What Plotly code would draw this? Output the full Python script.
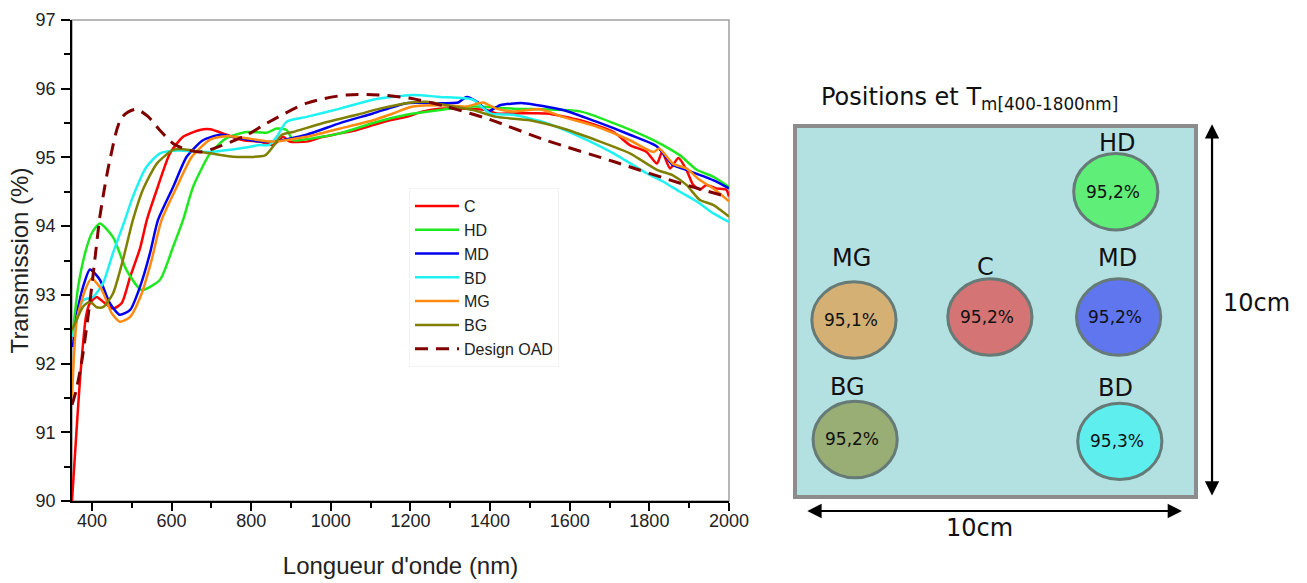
import plotly.graph_objects as go

# ---------------- data ----------------
c_x = [350, 360, 370, 385, 395, 412, 428, 453, 475, 496, 521, 538, 563, 596, 629, 671, 697, 738, 780, 822, 855, 880, 897, 939, 981, 1023, 1065, 1106, 1148, 1190, 1232, 1274, 1341, 1391, 1416, 1458, 1542, 1626, 1710, 1751, 1793, 1819, 1832, 1852, 1873, 1893, 1910, 1927, 1943, 1968, 1993, 2000]
c_y = [90.0, 90.9, 91.76, 92.68, 92.88, 92.97, 92.90, 92.80, 92.88, 93.26, 93.68, 94.09, 94.53, 95.06, 95.30, 95.40, 95.41, 95.33, 95.25, 95.23, 95.18, 95.30, 95.23, 95.23, 95.30, 95.35, 95.40, 95.47, 95.54, 95.59, 95.67, 95.71, 95.71, 95.69, 95.64, 95.64, 95.64, 95.54, 95.37, 95.18, 95.08, 94.91, 95.08, 94.84, 94.99, 94.82, 94.60, 94.53, 94.60, 94.55, 94.53, 94.43]

hd_x = [352, 365, 383, 400, 420, 453, 487, 525, 571, 604, 629, 654, 697, 738, 789, 839, 864, 889, 905, 922, 1023, 1106, 1190, 1274, 1357, 1458, 1626, 1710, 1793, 1834, 1877, 1919, 1960, 2000]
hd_y = [92.44, 93.1, 93.61, 93.9, 94.04, 93.84, 93.36, 93.07, 93.22, 93.70, 94.09, 94.57, 95.06, 95.28, 95.37, 95.36, 95.42, 95.40, 95.25, 95.25, 95.35, 95.50, 95.62, 95.69, 95.74, 95.71, 95.67, 95.50, 95.30, 95.18, 95.03, 94.82, 94.72, 94.57]

md_x = [352, 365, 378, 395, 420, 445, 470, 496, 521, 546, 566, 604, 638, 679, 722, 772, 822, 855, 939, 1023, 1106, 1190, 1274, 1320, 1341, 1370, 1395, 1425, 1483, 1583, 1667, 1751, 1819, 1859, 1893, 1960, 2000]
md_y = [92.24, 92.8, 93.12, 93.37, 93.22, 92.88, 92.71, 92.78, 93.12, 93.61, 94.09, 94.57, 95.01, 95.25, 95.33, 95.28, 95.23, 95.23, 95.33, 95.50, 95.64, 95.79, 95.79, 95.80, 95.88, 95.80, 95.67, 95.76, 95.79, 95.69, 95.52, 95.33, 95.16, 94.89, 94.82, 94.67, 94.55]

bd_x = [352, 378, 403, 428, 453, 483, 503, 537, 571, 613, 697, 780, 822, 845, 864, 889, 939, 1023, 1106, 1206, 1274, 1357, 1400, 1458, 1542, 1626, 1710, 1793, 1834, 1877, 1919, 1960, 2000]
bd_y = [92.39, 92.92, 92.97, 93.17, 93.61, 94.09, 94.43, 94.86, 95.06, 95.10, 95.08, 95.14, 95.18, 95.18, 95.30, 95.52, 95.59, 95.71, 95.84, 95.91, 95.88, 95.84, 95.64, 95.62, 95.50, 95.30, 95.06, 94.77, 94.65, 94.50, 94.36, 94.19, 94.06]

mg_x = [350, 362, 383, 399, 425, 450, 470, 496, 525, 550, 575, 613, 651, 697, 738, 822, 855, 939, 1023, 1106, 1156, 1206, 1274, 1341, 1382, 1416, 1458, 1525, 1583, 1667, 1751, 1810, 1825, 1859, 1893, 1927, 1960, 2000]
mg_y = [91.52, 92.63, 93.07, 93.24, 93.07, 92.73, 92.61, 92.68, 93.02, 93.51, 94.09, 94.57, 95.01, 95.26, 95.31, 95.25, 95.23, 95.30, 95.42, 95.54, 95.64, 95.74, 95.76, 95.74, 95.80, 95.71, 95.67, 95.70, 95.59, 95.45, 95.25, 95.08, 95.13, 94.91, 94.84, 94.67, 94.55, 94.36]

bg_x = [350, 358, 378, 395, 412, 428, 453, 478, 503, 528, 563, 604, 629, 697, 755, 835, 855, 877, 905, 981, 1065, 1123, 1190, 1240, 1291, 1357, 1416, 1500, 1583, 1667, 1751, 1819, 1859, 1893, 1927, 1960, 2000]
bg_y = [92.49, 92.59, 92.83, 92.90, 92.82, 92.82, 93.02, 93.51, 94.09, 94.53, 94.91, 95.11, 95.12, 95.06, 95.01, 95.03, 95.16, 95.33, 95.37, 95.50, 95.62, 95.71, 95.79, 95.81, 95.76, 95.69, 95.59, 95.54, 95.42, 95.25, 95.06, 94.82, 94.74, 94.60, 94.38, 94.31, 94.14]

oad_x = [350, 360, 375, 395, 415, 420, 445, 475, 510, 540, 570, 610, 670, 720, 790, 840, 940, 1040, 1120, 1200, 1290, 1400, 1540, 1710, 1880, 2000]
oad_y = [91.4, 91.6, 92.05, 92.9, 93.9, 94.14, 94.96, 95.58, 95.7, 95.6, 95.4, 95.18, 95.08, 95.16, 95.33, 95.5, 95.79, 95.91, 95.91, 95.86, 95.74, 95.55, 95.25, 94.94, 94.62, 94.42]

x_ticks = [400, 600, 800, 1000, 1200, 1400, 1600, 1800, 2000]
y_ticks = [90, 91, 92, 93, 94, 95, 96, 97]

# diagram data (positions in cm on the 10 cm x 10 cm sample)
spot_names = ["HD", "MG", "C", "MD", "BG", "BD"]
spot_tm = ["95,2%", "95,1%", "95,2%", "95,2%", "95,2%", "95,3%"]
spot_x_cm = [8.00, 1.47, 4.86, 8.07, 1.50, 8.10]
spot_y_cm = [8.23, 4.77, 4.85, 4.85, 1.55, 1.50]
label_x_cm = [8.03, 1.40, 4.74, 8.05, 1.32, 7.98]
label_y_cm = [9.54, 6.44, 6.20, 6.44, 2.96, 2.94]
spot_colors = ["#5fee78", "#d4b074", "#d47474", "#5f76ee", "#98ae74", "#5eeeee"]
sample_size_cm = 10

# ---------------- figure ----------------
fig = go.Figure()
series = [
    ("C", c_x, c_y, "#ff0000"),
    ("HD", hd_x, hd_y, "#1ee81e"),
    ("MD", md_x, md_y, "#0000f0"),
    ("BD", bd_x, bd_y, "#1ff2f2"),
    ("MG", mg_x, mg_y, "#ff8a10"),
    ("BG", bg_x, bg_y, "#808000"),
]
for name, xs, ys, col in series:
    fig.add_trace(go.Scatter(x=xs, y=ys, name=name, mode="lines",
                             line=dict(color=col, width=2.5, shape="spline", smoothing=0.6)))
fig.add_trace(go.Scatter(x=oad_x, y=oad_y, name="Design OAD", mode="lines",
                         line=dict(color="#800000", width=3, dash="13px,8px", shape="spline", smoothing=0.8)))

W, H = 1307, 583
sans = "Liberation Sans, Arial, sans-serif"
axis_font = dict(family=sans, size=18, color="#222")
fig.update_layout(
    width=W, height=H,
    margin=dict(l=0, r=0, t=0, b=0),
    paper_bgcolor="white", plot_bgcolor="white",
    showlegend=True,
    legend=dict(x=409 / W, y=1 - 188 / H, xanchor="left", yanchor="top",
                bgcolor="rgba(255,255,255,0)", bordercolor="#f3f3f3", borderwidth=1,
                font=dict(family=sans, size=16, color="#222"),
                itemwidth=44, entrywidth=150, tracegroupgap=0),
    xaxis=dict(domain=[72 / W, 729 / W], range=[350, 2000], tickvals=x_ticks,
               ticks="outside", ticklen=8, tickwidth=1.5, tickcolor="black",
               minor=dict(dtick=100, ticks="outside", ticklen=5, tickwidth=1.5, tickcolor="black"),
               showline=True, linecolor="black", linewidth=1.5, showgrid=False, zeroline=False,
               tickfont=axis_font, ticklabelstandoff=-5,
               title=dict(text="Longueur d'onde (nm)", font=dict(family=sans, size=24, color="#222"), standoff=27),
               automargin=False),
    yaxis=dict(domain=[1 - 501 / H, 1 - 20 / H], range=[90, 97], tickvals=y_ticks,
               ticks="outside", ticklen=9, tickwidth=1.5, tickcolor="black",
               minor=dict(dtick=0.5, ticks="outside", ticklen=6, tickwidth=1.5, tickcolor="black"),
               showline=True, linecolor="black", linewidth=1.5, showgrid=False, zeroline=False,
               tickfont=axis_font, ticklabelstandoff=2,
               title=dict(text="Transmission (%)", font=dict(family=sans, size=24, color="#222"), standoff=0),
               automargin=False),
    xaxis2=dict(domain=[0.6, 1.0], range=[-0.269, 12.768], visible=False, fixedrange=True, anchor="y2"),
    yaxis2=dict(domain=[0, 1], range=[-2.318, 13.396], visible=False, fixedrange=True, anchor="x2"),
)

# gray frame (top/right) of the chart
fig.add_shape(type="rect", xref="x domain", yref="y domain", x0=0, x1=1, y0=0, y1=1,
              line=dict(color="#a0a0a0", width=1.5), layer="below")

# sample rectangle
fig.add_shape(type="rect", xref="x2", yref="y2", x0=0, x1=sample_size_cm, y0=0, y1=sample_size_cm,
              line=dict(color="#8c8c8c", width=4), fillcolor="#b3e1e2", layer="above")

rx, ry = 1.05, 1.03
diag_font = "DejaVu Sans, Verdana, sans-serif"
for name, tm, cx, cy, lx, ly, col in zip(spot_names, spot_tm, spot_x_cm, spot_y_cm, label_x_cm, label_y_cm, spot_colors):
    fig.add_shape(type="circle", xref="x2", yref="y2", x0=cx - rx, x1=cx + rx, y0=cy - ry, y1=cy + ry,
                  fillcolor=col, line=dict(color="#667a77", width=3), layer="above")
    fig.add_annotation(xref="x2", yref="y2", x=cx - 0.08, y=cy, text=tm, showarrow=False,
                       font=dict(family=diag_font, size=17, color="#111"))
    fig.add_annotation(xref="x2", yref="y2", x=lx, y=ly, text=name, showarrow=False,
                       font=dict(family=diag_font, size=24, color="#111"))

# title of diagram
fig.add_annotation(xref="x2", yref="y2", x=0.6, y=10.75, xanchor="left", yanchor="middle",
                   text="Positions et T<sub>m[400-1800nm]</sub>", showarrow=False,
                   font=dict(family=diag_font, size=24, color="#111"))

# dimension arrows
fig.add_annotation(xref="x2", yref="y2", axref="x2", ayref="y2",
                   x=10.40, y=10.05, ax=10.40, ay=0.0, text="", showarrow=True,
                   arrowhead=2, startarrowhead=2, arrowside="end+start", arrowsize=1.3, startarrowsize=1.3,
                   arrowwidth=2.2, arrowcolor="black")
fig.add_annotation(xref="x2", yref="y2", axref="x2", ayref="y2",
                   x=9.65, y=-0.377, ax=0.27, ay=-0.377, text="", showarrow=True,
                   arrowhead=2, startarrowhead=2, arrowside="end+start", arrowsize=1.3, startarrowsize=1.3,
                   arrowwidth=2.2, arrowcolor="black")
fig.add_annotation(xref="x2", yref="y2", x=11.5, y=5.23, text="10cm", showarrow=False,
                   font=dict(family=diag_font, size=24, color="#111"))
fig.add_annotation(xref="x2", yref="y2", x=4.59, y=-0.84, text="10cm", showarrow=False,
                   font=dict(family=diag_font, size=24, color="#111"))

fig.write_html("out.html", config={"displayModeBar": False},
               post_script="document.body.style.margin='0';")
